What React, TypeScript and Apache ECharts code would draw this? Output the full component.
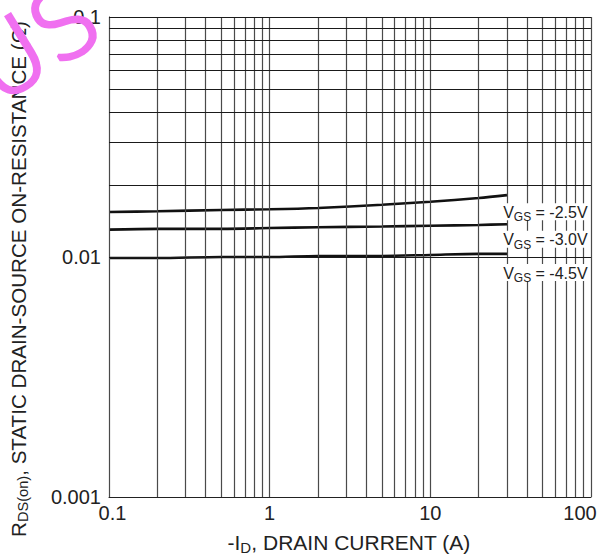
import React, { useEffect, useRef } from "react";
import * as echarts from "echarts";

const xTickLabels = ["0.1", "1", "10", "100"];
const yTickLabels = ["0.001", "0.01", "0.1"];
const xMin = 0.1;
const xMax = 100;
const yMin = 0.001;
const yMax = 0.1;

const currents = [0.1, 0.2, 0.5, 1, 2, 5, 10, 20, 30];
const rdsVgs25 = [0.0154, 0.0155, 0.0157, 0.0158, 0.016, 0.0165, 0.017, 0.0176, 0.0181];
const rdsVgs30 = [0.013, 0.0131, 0.0131, 0.0132, 0.0133, 0.0134, 0.0135, 0.0136, 0.0137];
const rdsVgs45 = [0.0099, 0.0099, 0.01, 0.01, 0.0101, 0.0101, 0.0102, 0.0103, 0.0103];

const seriesNames = ["-2.5V", "-3.0V", "-4.5V"];
const labelCurrent = 52;
const labelRds = [0.01545, 0.01185, 0.00861];

const FONT = "'Liberation Sans', Arial, sans-serif";

function decadeGrid(min: number, max: number): number[] {
  const out: number[] = [];
  for (let d = min; d < max * 0.999; d *= 10) {
    for (let m = 1; m <= 9; m++) out.push(+(d * m).toPrecision(3));
  }
  out.push(max);
  return out;
}

export default function App() {
  const ref = useRef<HTMLDivElement>(null);
  useEffect(() => {
    if (!ref.current) return;
    const chart = echarts.init(ref.current, null, { renderer: "svg" });
    const xGrid = decadeGrid(xMin, xMax);
    const yGrid = decadeGrid(yMin, yMax);
    const curves = [rdsVgs25, rdsVgs30, rdsVgs45];

    const rich = {
      m: { fontSize: 16, lineHeight: 16, verticalAlign: "top", color: "#222", fontFamily: FONT },
      s: { fontSize: 12, lineHeight: 12, verticalAlign: "top", padding: [7, 0, 0, 0], color: "#222", fontFamily: FONT },
    };

    const option: any = {
      animation: false,
      backgroundColor: "#fff",
      grid: { left: 109, top: 17, width: 482, height: 480, containLabel: false, outerBoundsMode: "none" },
      xAxis: {
        type: "log",
        logBase: 10,
        min: xMin,
        max: xMax,
        axisLine: { show: true, lineStyle: { color: "#222", width: 1 } },
        axisTick: { show: false },
        splitLine: { show: false },
        minorSplitLine: { show: false },
        axisLabel: {
          color: "#222",
          fontSize: 20,
          fontFamily: FONT,
          margin: 6,
          formatter: (v: number) => {
            const i = Math.round(Math.log10(v / xMin));
            const t = xTickLabels[i] ?? "";
            if (i === 0) return `{first|${t}}`;
            if (i === xTickLabels.length - 1) return `{last|${t}}`;
            return t;
          },
          rich: {
            first: { fontSize: 20, fontFamily: FONT, color: "#222", padding: [0, 0, 0, 7] },
            last: { fontSize: 20, fontFamily: FONT, color: "#222", padding: [0, 22, 0, 0] },
          },
        },
      },
      yAxis: {
        type: "log",
        logBase: 10,
        min: yMin,
        max: yMax,
        axisLine: { show: true, lineStyle: { color: "#222", width: 1 } },
        axisTick: { show: false },
        splitLine: { show: false },
        axisLabel: {
          color: "#222",
          fontSize: 20,
          fontFamily: FONT,
          margin: 8,
          formatter: (v: number) => yTickLabels[Math.round(Math.log10(v / yMin))] ?? "",
        },
      },
      graphic: [
        {
          type: "text",
          x: 18,
          y: 279,
          rotation: Math.PI / 2,
          style: {
            text: "{r|R}{s|DS(on)}{r|, STATIC DRAIN-SOURCE ON-RESISTANCE (Ω)}",
            align: "center",
            verticalAlign: "middle",
            rich: {
              r: { fontSize: 20.6, lineHeight: 21, verticalAlign: "top", fill: "#222", fontFamily: FONT },
              s: { fontSize: 14.6, lineHeight: 15, verticalAlign: "top", padding: [8, 0, 0, 0], fill: "#222", fontFamily: FONT },
            },
          },
        },
        {
          type: "text",
          x: 349,
          y: 542,
          style: {
            text: "{r|-I}{s|D}{r|, DRAIN CURRENT (A)}",
            align: "center",
            verticalAlign: "middle",
            rich: {
              r: { fontSize: 21, lineHeight: 21, verticalAlign: "top", fill: "#222", fontFamily: FONT },
              s: { fontSize: 15, lineHeight: 15, verticalAlign: "top", padding: [8, 0, 0, 0], fill: "#222", fontFamily: FONT },
            },
          },
        },
        {
          type: "text",
          x: 4,
          y: 118,
          rotation: 0.55,
          z: 100,
          silent: true,
          style: {
            text: "US",
            fontSize: 96,
            fontFamily: "'DejaVu Sans', sans-serif",
            fontWeight: 200,
            fill: "#f070f0",
            stroke: "#f070f0",
            lineWidth: 3.5,
            align: "left",
            verticalAlign: "bottom",
          },
        },
      ],
      series: [
        {
          type: "line",
          name: "grid",
          data: [[1, 0.01]],
          symbol: "none",
          lineStyle: { opacity: 0 },
          silent: true,
          z: 1,
          markLine: {
            silent: true,
            symbol: ["none", "none"],
            label: { show: false },
            animation: false,
            data: [
              ...xGrid.map((v) => ({ xAxis: v, lineStyle: { type: "solid", color: "#4a4a4a", width: 1.2 } })),
              ...yGrid.map((v) => ({ yAxis: v, lineStyle: { type: "solid", color: "#1a1a1a", width: 1 } })),
            ],
          },
        },
        ...curves.map((vals, i) => ({
          type: "line",
          name: seriesNames[i],
          data: currents.map((c, j) => [c, vals[j]]),
          symbol: "none",
          smooth: 0.3,
          z: 3,
          lineStyle: { color: "#111", width: 2.6 },
          markPoint: {
            symbol: "circle",
            symbolSize: 1,
            itemStyle: { color: "rgba(0,0,0,0)" },
            silent: true,
            data: [
              {
                coord: [labelCurrent, labelRds[i]],
                label: {
                  show: true,
                  position: "inside",
                  formatter: `{m|V}{s|GS}{m| = ${seriesNames[i]}}`,
                  backgroundColor: "#fff",
                  padding: [1, 1, 0, 1],
                  rich,
                },
              },
            ],
          },
        })),
      ],
    };
    chart.setOption(option);
    return () => chart.dispose();
  }, []);
  return <div ref={ref} style={{ width: 598, height: 554, position: "absolute", left: 0, top: 0 }} />;
}
